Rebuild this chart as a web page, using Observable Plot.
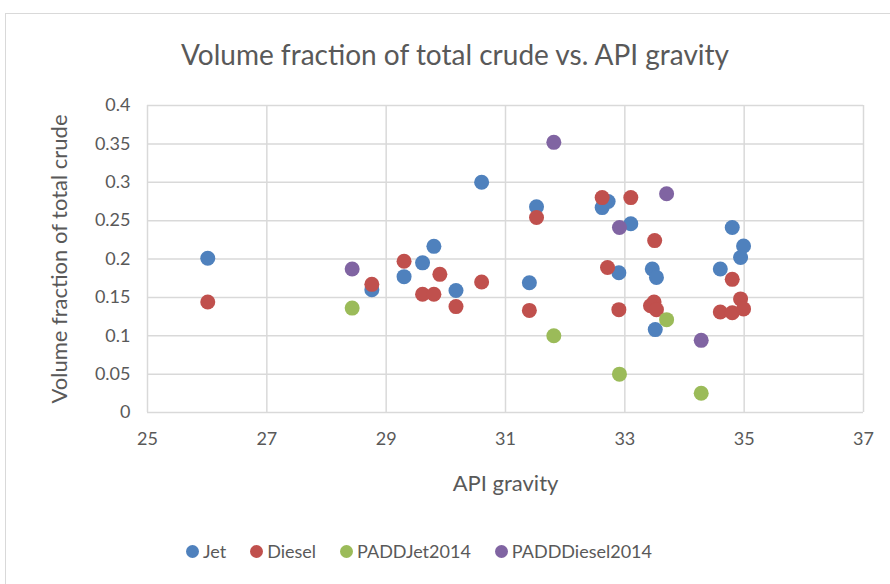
<!DOCTYPE html>
<html>
<head>
<meta charset="utf-8">
<script src="https://cdn.jsdelivr.net/npm/d3@7"></script>
<script src="https://cdn.jsdelivr.net/npm/@observablehq/plot@0.6"></script>
<style>
  html, body { margin: 0; padding: 0; background: #fff; }
  body { width: 890px; height: 584px; position: relative; overflow: hidden; font-family: Lato, "Open Sans", sans-serif; color: #595959; }
  #frame { position: absolute; left: 5px; top: 13px; width: 900px; height: 600px; border: 1px solid #d9d9d9; box-sizing: border-box; }
  #title { position: absolute; left: 0; top: 38px; width: 910px; text-align: center; font-size: 28px; color: #595959; line-height: 32px; }
  #chart { position: absolute; left: 0; top: 90px; }
  #legend { position: absolute; left: 186px; top: 540px; display: flex; gap: 24px; font-size: 18px; line-height: 22px; color: #595959; }
  #legend span.item { display: flex; align-items: center; }
  #legend span.sw { width: 13px; height: 13px; border-radius: 50%; display: inline-block; margin-right: 4px; }
</style>
</head>
<body>
<div id="frame"></div>
<div id="title">Volume fraction of total crude vs. API gravity</div>
<div id="chart"></div>
<div id="legend"></div>
<script>
const seriesNames = ["Jet", "Diesel", "PADDJet2014", "PADDDiesel2014"];
const seriesColors = ["#4F81BD", "#C0504D", "#9BBB59", "#8064A2"];

const jetX = [26.01, 28.76, 29.30, 29.61, 29.80, 30.17, 30.60, 31.40, 31.52, 32.62, 32.72, 32.90, 33.10, 33.46, 33.53, 33.51, 34.60, 34.80, 34.94, 34.99];
const jetY = [0.201, 0.160, 0.177, 0.195, 0.2165, 0.159, 0.300, 0.169, 0.268, 0.267, 0.275, 0.182, 0.246, 0.187, 0.176, 0.108, 0.187, 0.241, 0.202, 0.217];

const dieselX = [26.01, 28.76, 29.30, 29.61, 29.80, 29.90, 30.17, 30.60, 31.40, 31.52, 32.62, 32.71, 32.90, 33.10, 33.50, 33.49, 33.43, 33.53, 34.60, 34.80, 34.80, 34.94, 34.99];
const dieselY = [0.144, 0.167, 0.197, 0.154, 0.154, 0.180, 0.138, 0.170, 0.133, 0.254, 0.280, 0.189, 0.134, 0.280, 0.224, 0.144, 0.139, 0.134, 0.131, 0.1735, 0.130, 0.148, 0.135];

const paddJetX = [28.43, 31.81, 32.91, 33.70, 34.28];
const paddJetY = [0.136, 0.100, 0.050, 0.121, 0.025];

const paddDieselX = [28.43, 31.81, 32.91, 33.70, 34.28];
const paddDieselY = [0.187, 0.352, 0.241, 0.285, 0.094];

const xTicks = [25, 27, 29, 31, 33, 35, 37];
const yTicks = [0, 0.05, 0.1, 0.15, 0.2, 0.25, 0.3, 0.35, 0.4];

const seriesXs = [jetX, dieselX, paddJetX, paddDieselX];
const seriesYs = [jetY, dieselY, paddJetY, paddDieselY];
const data = [];
seriesNames.forEach((name, i) => {
  seriesXs[i].forEach((x, j) => data.push({series: name, x, y: seriesYs[i][j]}));
});

const plot = Plot.plot({
  width: 890,
  height: 430,
  marginLeft: 147,
  marginRight: 27,
  marginTop: 15,
  marginBottom: 108,
  style: {fontFamily: "Lato, 'Open Sans', sans-serif", color: "#595959", background: "transparent", overflow: "visible"},
  x: {domain: [25, 37], ticks: xTicks, label: null},
  y: {domain: [0, 0.4], ticks: yTicks, label: null},
  color: {domain: seriesNames, range: seriesColors},
  marks: [
    Plot.gridX(xTicks, {stroke: "#d9d9d9", strokeOpacity: 1, strokeWidth: 1.5}),
    Plot.gridY(yTicks, {stroke: "#d9d9d9", strokeOpacity: 1, strokeWidth: 1.5}),
    Plot.axisX(xTicks, {tickSize: 0, tickPadding: 20, fontSize: 18, fill: "#595959", label: "API gravity", labelAnchor: "center", labelArrow: "none", labelOffset: 78}),
    Plot.axisY(yTicks, {tickSize: 0, tickPadding: 17, fontSize: 18, fill: "#595959", tickFormat: d => String(+d.toFixed(2)), label: "Volume fraction of total crude", labelAnchor: "center", labelArrow: "none", labelOffset: 96}),
    Plot.dot(data, {x: "x", y: "y", fill: "series", r: 7.5, stroke: "none"})
  ]
});
plot.querySelectorAll("g[aria-label='x-axis label'] text, g[aria-label='y-axis label'] text").forEach(t => t.setAttribute("font-size", "22"));
document.getElementById("chart").appendChild(plot);

const legend = document.getElementById("legend");
seriesNames.forEach((name, i) => {
  const item = document.createElement("span");
  item.className = "item";
  const sw = document.createElement("span");
  sw.className = "sw";
  sw.style.background = seriesColors[i];
  item.appendChild(sw);
  item.appendChild(document.createTextNode(name));
  legend.appendChild(item);
});
</script>
</body>
</html>
